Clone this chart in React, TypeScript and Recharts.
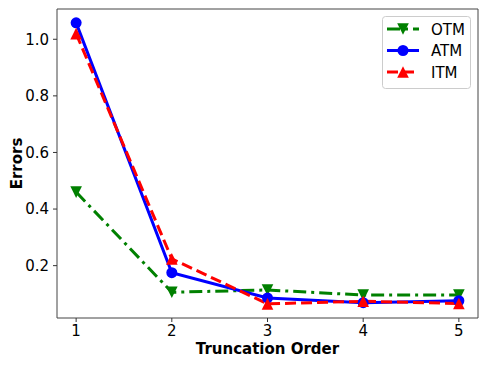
import { LineChart, Line, XAxis, YAxis, Legend, ReferenceArea } from "recharts";

const ORDERS = [1, 2, 3, 4, 5];
const OTM = [0.46, 0.106, 0.114, 0.096, 0.096];
const ATM = [1.058, 0.175, 0.086, 0.069, 0.076];
const ITM = [1.02, 0.224, 0.065, 0.074, 0.066];
const X_TICKS = [1, 2, 3, 4, 5];
const Y_TICKS = [0.2, 0.4, 0.6, 0.8, 1.0];

const data = ORDERS.map((order, i) => ({
  order,
  OTM: OTM[i],
  ATM: ATM[i],
  ITM: ITM[i],
}));

const FONT = "'DejaVu Sans', sans-serif";
const X_DOMAIN: [number, number] = [0.8, 5.2];
const Y_DOMAIN: [number, number] = [0.015, 1.107];

type Shape = "down" | "circle" | "up";
const SERIES: { key: "OTM" | "ATM" | "ITM"; color: string; dash?: string; shape: Shape }[] = [
  { key: "OTM", color: "#008000", dash: "13 5 3 5", shape: "down" },
  { key: "ATM", color: "#0000ff", shape: "circle" },
  { key: "ITM", color: "#ff0000", dash: "11 5", shape: "up" },
];

function Marker({ cx, cy, shape, color }: { cx?: number; cy?: number; shape: Shape; color: string }) {
  if (cx == null || cy == null) return null;
  if (shape === "circle") return <circle cx={cx} cy={cy} r={5.5} fill={color} />;
  const h = 5.8;
  const pts =
    shape === "up"
      ? `${cx},${cy - h} ${cx - h},${cy + h} ${cx + h},${cy + h}`
      : `${cx},${cy + h} ${cx - h},${cy - h} ${cx + h},${cy - h}`;
  return <polygon points={pts} fill={color} />;
}

function LegendBox() {
  return (
    <svg width={89} height={73} style={{ display: "block" }}>
      <rect x={0.5} y={0.5} width={88} height={72} rx={3} fill="rgba(255,255,255,0.8)" stroke="#cccccc" />
      {SERIES.map((s, i) => {
        const y = 13 + i * 21.5;
        return (
          <g key={s.key}>
            <line x1={5} x2={37} y1={y} y2={y} stroke={s.color} strokeWidth={3} strokeDasharray={s.dash} />
            <Marker cx={21} cy={y} shape={s.shape} color={s.color} />
            <text x={49} y={y + 5.5} fontFamily={FONT} fontSize={15} fill="#000">
              {s.key}
            </text>
          </g>
        );
      })}
    </svg>
  );
}

function YLabel({ viewBox }: { viewBox?: { y: number; height: number } }) {
  const cy = viewBox ? viewBox.y + viewBox.height / 2 : 163;
  return (
    <text
      x={21.5}
      y={cy}
      transform={`rotate(-90, 21.5, ${cy})`}
      textAnchor="middle"
      fontFamily={FONT}
      fontSize={15}
      fontWeight="bold"
      fill="#000"
    >
      Errors
    </text>
  );
}

const tickStyle = { fill: "#000", fontSize: 15, fontFamily: FONT };

export default function App() {
  return (
    <div style={{ position: "absolute", left: 0, top: 0, background: "#fff" }}>
      <LineChart width={488} height={366} data={data} margin={{ top: 9, right: 10, left: 0, bottom: 0 }}>
        <XAxis
          dataKey="order"
          type="number"
          domain={X_DOMAIN}
          ticks={X_TICKS}
          allowDataOverflow
          height={48}
          tick={tickStyle}
          tickSize={4}
          tickMargin={3.5}
          axisLine={false}
          tickLine={{ stroke: "#333" }}
          label={{
            value: "Truncation Order",
            position: "insideBottom",
            offset: 12,
            fontFamily: FONT,
            fontSize: 15,
            fontWeight: "bold",
            fill: "#000",
          }}
        />
        <YAxis
          type="number"
          domain={Y_DOMAIN}
          ticks={Y_TICKS}
          allowDataOverflow
          width={57}
          tick={tickStyle}
          tickSize={4}
          tickMargin={4}
          tickFormatter={(v: number) => v.toFixed(1)}
          axisLine={false}
          tickLine={{ stroke: "#333" }}
          label={<YLabel />}
        />
        <ReferenceArea
          x1={X_DOMAIN[0]}
          x2={X_DOMAIN[1]}
          y1={Y_DOMAIN[0]}
          y2={Y_DOMAIN[1]}
          fill="none"
          stroke="#444"
          strokeWidth={1}
        />
        {SERIES.map((s) => (
          <Line
            key={s.key}
            dataKey={s.key}
            stroke={s.color}
            strokeWidth={3}
            strokeDasharray={s.dash}
            isAnimationActive={false}
            dot={(p: any) => (
              <Marker key={`${s.key}-${p.index}`} cx={p.cx} cy={p.cy} shape={s.shape} color={s.color} />
            )}
            activeDot={false}
          />
        ))}
        <Legend
          layout="vertical"
          align="center"
          verticalAlign="middle"
          content={<LegendBox />}
          wrapperStyle={{ left: 382, top: 16, width: 89, height: 73 }}
        />
      </LineChart>
    </div>
  );
}
